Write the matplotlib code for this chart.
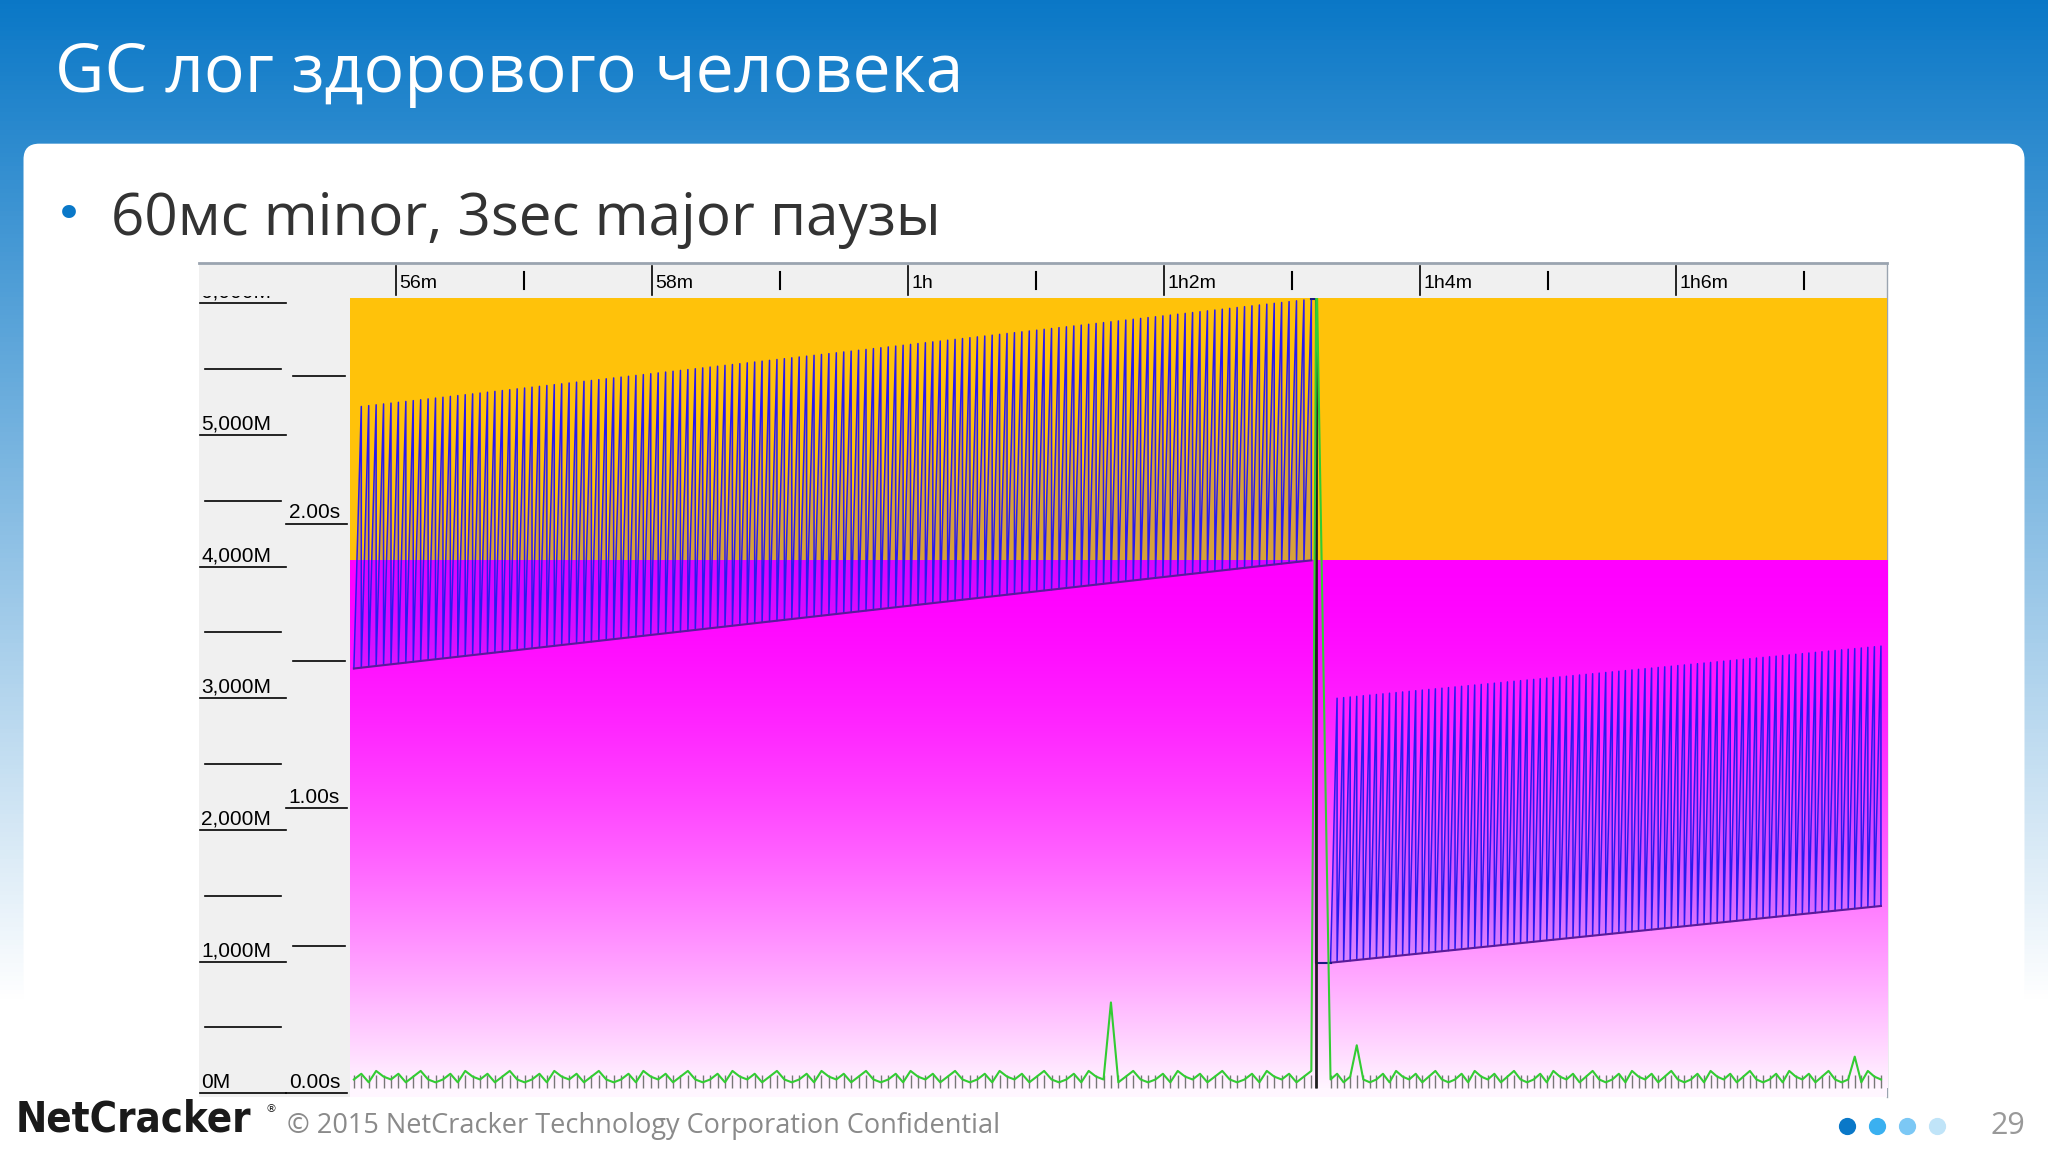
import numpy as np
import matplotlib.pyplot as plt
from matplotlib.patches import FancyBboxPatch, Rectangle

# --- data ---
title = "GC лог здорового человека"
bullet = "60мс minor, 3sec major паузы"
time_ticks = [56, 58, 60, 62, 64, 66]
time_labels = ["56m", "58m", "1h", "1h2m", "1h4m", "1h6m"]
heap_ticks = [0, 1000, 2000, 3000, 4000, 5000, 6000]
heap_labels = ["0M", "1,000M", "2,000M", "3,000M", "4,000M", "5,000M", "6,000M"]
pause_ticks = [0.0, 1.0, 2.0]
pause_labels = ["0.00s", "1.00s", "2.00s"]

x_start, x_end = 55.64, 67.65
heap_total = 6000
old_committed = 4000
major_gc_time = 63.19

# before the full GC: (start, end) of min/max of used heap, number of minor GCs
pre_t = [55.67, 63.15]
pre_low = [3180, 4000]
pre_high = [5160, 5980]
pre_count = 130
# after the full GC
post_t = [63.30, 67.60]
post_low = [950, 1380]
post_high = [2950, 3350]
post_count = 85

# minor pause pattern (s) and the big pauses
pause_pattern = [0.03, 0.05, 0.02, 0.06, 0.04, 0.03, 0.05, 0.02, 0.04, 0.06, 0.03, 0.02]
spikes = {102: 0.30}  # index within pre phase
major_pause = 2.9
post_spikes = {4: 0.15, 80: 0.11}

# --- figure ---
W, H = 1568, 882
fig = plt.figure(figsize=(20.48, 11.52), dpi=100)
bg = fig.add_axes([0, 0, 1, 1])
bg.set_xlim(0, W)
bg.set_ylim(H, 0)
bg.axis("off")

grad = np.linspace(0, 1, 256)[:, None]
top = np.array([0.04, 0.47, 0.78])
bot = np.array([1.0, 1.0, 1.0])
g = np.clip(grad * 1.15, 0, 1)
img = top[None, None, :] * (1 - g[..., None]) + bot[None, None, :] * g[..., None]
bg.imshow(np.repeat(img, 2, axis=1), extent=[0, W, H, 0], aspect="auto", zorder=0)
bg.add_patch(FancyBboxPatch((18, 110), 1532, 800, boxstyle="round,pad=0,rounding_size=12",
                            fc="white", ec="none", zorder=1))
bg.text(42, 57, title, color="white", fontsize=49, va="center", family="Open Sans", zorder=2)
bg.text(42, 166, "•", color="#0a78c8", fontsize=34, va="center", zorder=2)
bg.text(85, 168, bullet, color="#333333", fontsize=42, va="center", family="Open Sans", zorder=2)

# chart panel
bg.add_patch(Rectangle((152, 201), 1293, 639, fc="#f0f0f0", ec="none", zorder=2))


def ymb(v):
    return 833 - v * 0.1008


def ysec(v):
    return 833 - v * 218


for v, lab in zip(heap_ticks, heap_labels):
    y = ymb(v) + 4
    bg.text(154, y - 1, lab, fontsize=15, va="bottom", ha="left", family="Liberation Sans", zorder=3)
    bg.plot([153, 219], [y, y], color="black", lw=1.2, zorder=3)
for v in heap_ticks[:-1]:
    y = ymb(v + 500) + 4
    bg.plot([157, 215], [y, y], color="black", lw=1.2, zorder=3)
for v, lab in zip(pause_ticks, pause_labels):
    y = ysec(v) + 4
    bg.text(221, y - 1, lab, fontsize=15, va="bottom", ha="left", family="Liberation Sans", zorder=3)
    bg.plot([219, 266], [y, y], color="black", lw=1.2, zorder=3)
for v in [0.5, 1.5, 2.5]:
    y = ysec(v)
    bg.plot([224, 264], [y, y], color="black", lw=1.2, zorder=3)

# time strip on top
bg.add_patch(Rectangle((152, 201), 1293, 26, fc="#f0f0f0", ec="none", zorder=4))
bg.plot([152, 1445], [201, 201], color="#9aa4b0", lw=2, zorder=5)
bg.plot([1445, 1445], [201, 840], color="#9aa4b0", lw=1, zorder=5)
for t, lab in zip(time_ticks, time_labels):
    x = 303 + (t - 56) * 98
    bg.plot([x, x], [204, 226], color="black", lw=1.2, zorder=5)
    bg.text(x + 3, 217, lab, fontsize=14, va="center", family="Liberation Sans", zorder=5)
    bg.plot([x + 98, x + 98], [208, 221], color="black", lw=1.5, zorder=5)

# footer
bg.text(12, 857, "NetCracker", fontsize=30, fontweight="bold", color="#1a1a1a", va="center",
        family="DejaVu Sans", stretch="condensed", zorder=5)
bg.text(203, 849, "®", fontsize=8, color="#1a1a1a", va="center", zorder=5)
bg.text(220, 862, "© 2015 NetCracker Technology Corporation Confidential", fontsize=19.5,
        color="#8a8a8a", va="center", family="Open Sans", zorder=5)
for x, c in zip([1414, 1437, 1460, 1483], ["#0a78c8", "#3ab0f0", "#7cc8f5", "#c0e4f8"]):
    bg.scatter([x], [862], s=130, color=c, zorder=5)
bg.text(1537, 862, "29", fontsize=22, color="#999999", va="center", ha="center",
        family="Open Sans", zorder=5)

# --- data axes ---
ax = fig.add_axes([268 / W, (H - 840) / H, (1445 - 268) / W, (840 - 228) / H], zorder=3)
ax.set_xlim(x_start, x_end)
ax.set_ylim(-69, 5990)
ax.axis("off")
ax.patch.set_alpha(0)

# yellow: total heap above old gen, magenta gradient: old gen
ax.fill_between([x_start, x_end], old_committed, heap_total, color="#ffc20a", lw=0, zorder=1)
mg = np.linspace(0, 1, 256)[:, None]
mag = np.array([1.0, 0.0, 1.0])
wht = np.array([1.0, 0.96, 1.0])
mimg = mag * (1 - mg[..., None] ** 1.6) + wht * (mg[..., None] ** 1.6)
ax.imshow(np.repeat(mimg, 2, axis=1), extent=[x_start, x_end, 0, old_committed],
          aspect="auto", zorder=1)
ax.fill_between([x_start, x_end], -69, 0, color="#fff6ff", lw=0, zorder=1)


def sawtooth(t, low, high, n):
    ts = np.linspace(t[0], t[1], n)
    lo = np.interp(ts, t, low)
    hi = np.interp(ts, t, high)
    xs, ys = [ts[0]], [lo[0]]
    for i in range(1, n):
        xs += [ts[i], ts[i]]
        ys += [hi[i], lo[i]]
    return ts, lo, np.array(xs), np.array(ys)


ts1, lo1, xs1, ys1 = sawtooth(pre_t, pre_low, pre_high, pre_count)
ts2, lo2, xs2, ys2 = sawtooth(post_t, post_low, post_high, post_count)
for xs, ys, ts, lo in [(xs1, ys1, ts1, lo1), (xs2, ys2, ts2, lo2)]:
    ax.fill_between(xs, np.interp(xs, ts, lo), ys, color="#3a20ff", alpha=0.2, lw=0, zorder=2)
    ax.plot(xs, ys, color="#2a1aee", lw=1.1, zorder=3)
ax.plot(ts1, lo1, color="#5a1a9a", lw=1.5, zorder=4)
ax.plot(ts2, lo2, color="#5a1a9a", lw=1.5, zorder=4)
ax.plot([ts1[-1], major_gc_time, major_gc_time, ts2[0]],
        [pre_high[1], pre_high[1], post_low[0], post_low[0]], color="#1a1a80", lw=1.5, zorder=4)

# pauses (seconds axis mapped onto heap axis)
sec2mb = 218 / 0.1008
p1 = np.array([spikes.get(i, pause_pattern[i % len(pause_pattern)]) for i in range(pre_count)])
p2 = np.array([post_spikes.get(i, pause_pattern[(i + 5) % len(pause_pattern)]) for i in range(post_count)])
pt = np.concatenate([ts1, [major_gc_time], ts2])
pv = np.concatenate([p1, [major_pause], p2])
ax.vlines(pt, 0, 0.045 * sec2mb, color="#777777", lw=1.0, zorder=5)
ax.vlines([major_gc_time], 0, heap_total, color="#202020", lw=2, zorder=5)
ax.plot(pt, pv * sec2mb, color="#33cc33", lw=1.5, zorder=6)

fig.savefig("out.png", dpi=100)
